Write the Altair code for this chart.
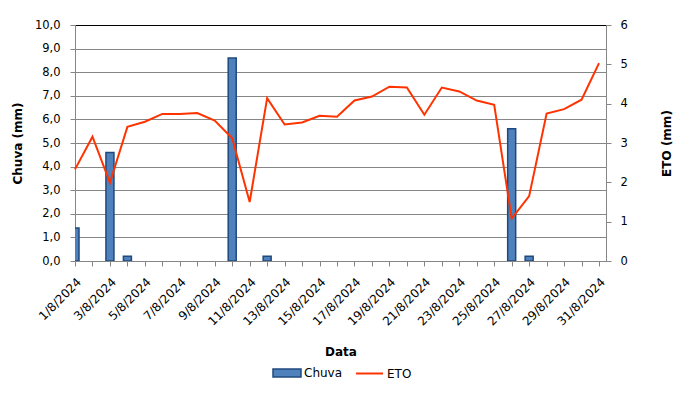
import json
import altair as alt
import pandas as pd

# ---- data ----
datas = ["1/8/2024", "2/8/2024", "3/8/2024", "4/8/2024", "5/8/2024", "6/8/2024",
         "7/8/2024", "8/8/2024", "9/8/2024", "10/8/2024", "11/8/2024", "12/8/2024",
         "13/8/2024", "14/8/2024", "15/8/2024", "16/8/2024", "17/8/2024", "18/8/2024",
         "19/8/2024", "20/8/2024", "21/8/2024", "22/8/2024", "23/8/2024", "24/8/2024",
         "25/8/2024", "26/8/2024", "27/8/2024", "28/8/2024", "29/8/2024", "30/8/2024",
         "31/8/2024"]
dias = list(range(1, len(datas) + 1))
chuva = [1.4, 0, 4.6, 0.2, 0, 0, 0, 0, 0, 8.6, 0, 0.2, 0, 0, 0, 0, 0, 0, 0, 0,
         0, 0, 0, 0, 0, 5.6, 0.2, 0, 0, 0, 0]
eto = [2.33, 3.16, 1.99, 3.41, 3.54, 3.74, 3.74, 3.76, 3.57, 3.12, 1.50, 4.14,
       3.47, 3.52, 3.69, 3.67, 4.08, 4.18, 4.43, 4.41, 3.72, 4.41, 4.31, 4.08,
       3.97, 1.08, 1.65, 3.75, 3.86, 4.10, 5.03]
chuva_ticks = [0, 1, 2, 3, 4, 5, 6, 7, 8, 9, 10]
eto_ticks = [0, 1, 2, 3, 4, 5, 6]
series = ["Chuva", "ETO"]

df = pd.DataFrame({"data": datas, "dia": dias, "Chuva": chuva, "ETO": eto})

FONT = "DejaVu Sans"
GRAY = "#868686"

label_expr = "datum.value % 2 == 1 ? " + json.dumps(datas) + "[datum.value - 1] : ''"

x_enc = alt.X(
    "dia:Q",
    scale=alt.Scale(domain=[1, 31.4], nice=False, zero=False, padding=0),
    axis=alt.Axis(
        values=dias, labelExpr=label_expr, labelAngle=-45, labelOverlap=False,
        labelFlush=False, grid=False, tickSize=5, tickColor=GRAY, domainColor=GRAY,
        labelFont=FONT, labelFontSize=12, labelColor="black", labelPadding=10,
        title="Data", titleFont=FONT, titleFontSize=12, titleFontWeight="bold",
        titleColor="black", titlePadding=19,
    ),
)

bars = alt.Chart(df).transform_filter("datum.Chuva > 0").transform_calculate(
    serie_b="'" + series[0] + "'"
).mark_bar(
    size=8, stroke="#1F497D", strokeWidth=1.5, clip=True
).encode(
    x=x_enc,
    y=alt.Y(
        "Chuva:Q",
        scale=alt.Scale(domain=[0, 10], nice=False),
        axis=alt.Axis(
            orient="left", values=chuva_ticks,
            labelExpr="replace(format(datum.value, '.1f'), '.', ',')",
            grid=True,
            gridColor={"condition": {"test": "datum.value === 10", "value": "black"}, "value": GRAY},
            tickSize=5, tickColor=GRAY, domainColor=GRAY,
            labelFont=FONT, labelFontSize=11.5, labelColor="black", labelPadding=10,
            title="Chuva (mm)", titleFont=FONT, titleFontSize=12, titleFontWeight="bold",
            titleColor="black", titlePadding=10,
        ),
    ),
    fill=alt.Fill(
        "serie_b:N",
        scale=alt.Scale(domain=[series[0]], range=["#4F81BD"]),
        legend=alt.Legend(
            title=None, orient="none", legendX=203, legendY=339, padding=0,
            symbolType="M-1.75,-0.5H1.75V0.5H-1.75Z", symbolSize=256,
            symbolStrokeColor="#1F497D", symbolStrokeWidth=1.5, symbolOpacity=1,
            labelOffset=8, labelFont=FONT, labelFontSize=12, labelColor="black",
        ),
    ),
)

line = alt.Chart(df).transform_calculate(
    serie_l="'" + series[1] + "'"
).mark_line(strokeWidth=2).encode(
    x=x_enc,
    y=alt.Y(
        "ETO:Q",
        scale=alt.Scale(domain=[0, 6], nice=False),
        axis=alt.Axis(
            orient="right", values=eto_ticks, format="d", grid=False,
            tickSize=5, tickColor=GRAY, domainColor=GRAY,
            labelFont=FONT, labelFontSize=11.5, labelColor="black", labelPadding=9,
            title="ETO (mm)", titleFont=FONT, titleFontSize=12, titleFontWeight="bold",
            titleColor="black", titlePadding=46, titleAngle=270,
        ),
    ),
    stroke=alt.Stroke(
        "serie_l:N",
        scale=alt.Scale(domain=[series[1]], range=["#FF3300"]),
        legend=alt.Legend(
            title=None, orient="none", legendX=280, legendY=334, padding=0,
            symbolType="stroke", symbolSize=729, symbolStrokeWidth=2,
            labelOffset=3, labelFont=FONT, labelFontSize=12, labelColor="black",
        ),
    ),
)

chart = alt.layer(bars, line).resolve_scale(
    y="independent", fill="independent", stroke="independent"
).properties(
    width=531, height=236,
    autosize=alt.AutoSizeParams(type="none"),
    padding={"left": 67, "top": 17, "right": 85, "bottom": 130},
    background="white",
).configure_view(stroke=None)

chart.save("out.html", embed_options={"renderer": "svg", "actions": False})
